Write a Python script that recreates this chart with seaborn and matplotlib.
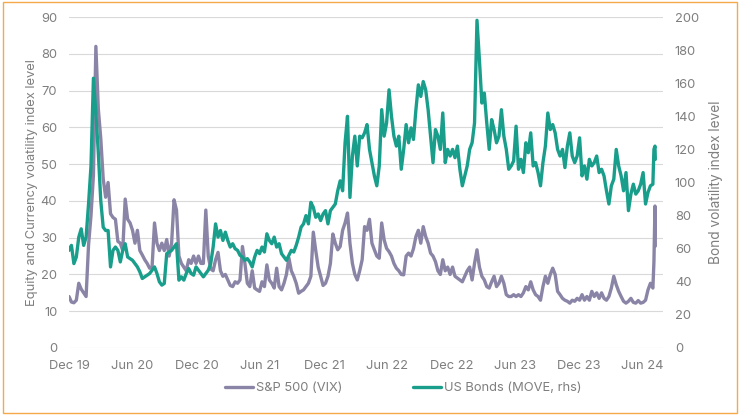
import matplotlib
matplotlib.use('Agg')
import matplotlib.pyplot as plt
import pandas as pd
import seaborn as sns

# weekly readings (Tuesdays from 31 Dec 2019), then the early-August 2024 days
VIX = [14, 12.5, 12.3, 13, 17.6, 16, 15, 14, 28, 36,
       47, 82, 65, 57, 46, 41, 45, 36.5, 35.5, 35,
       29, 28.5, 26.5, 40.5, 35, 34, 32, 28.5, 32, 26.5,
       25.3, 24, 23, 21.7, 22, 34, 28.5, 26.5, 28.5, 26.5,
       29.5, 25, 28.5, 40.3, 37.5, 25, 23, 22, 21, 24,
       23, 25, 23, 25, 23, 23, 37.5, 25, 21.5, 21,
       24, 26, 21, 19.5, 20, 18.5, 17, 16.7, 18, 17.6,
       18.5, 27.6, 23, 17.6, 16.7, 21, 16.3, 15.8, 15.4, 18,
       16.7, 22.6, 18.5, 17.6, 16.3, 21.7, 16.7, 15.8, 17.6, 20,
       24.5, 21, 19.5, 17.6, 14.9, 15.4, 15.8, 16.7, 17.6, 19.5,
       31.5, 26.5, 22, 19.5, 17, 17.6, 19.5, 23, 31, 28.5,
       26.7, 27.6, 32, 34, 36.7, 28.5, 23, 20, 18.5, 21,
       24, 33, 32, 35, 28.5, 26.7, 25, 24.4, 34, 29.4,
       27.1, 26.2, 25, 23, 21.7, 21, 20, 19.9, 25, 25.8,
       25, 27, 30.3, 32, 28.5, 33, 30.3, 28.5, 25.8, 25,
       23.5, 21, 20, 24, 21, 22, 20, 22, 19.5, 19,
       18.5, 18, 19.5, 21, 22, 18.5, 23, 26.7, 22, 19.5,
       18.5, 16.7, 16.3, 18, 19.5, 16.7, 17.6, 19.5, 17.6, 14.5,
       14, 14, 14.5, 14, 14.5, 14, 15, 16.7, 15.8, 18,
       15.8, 14.5, 14, 13, 16.7, 19.5, 17.6, 20, 21.7, 20,
       15.4, 14.5, 13.5, 13, 12.7, 12.2, 13, 12.7, 13.5, 13,
       14.5, 13, 14, 13, 15.4, 14, 15, 13.5, 15, 13.5,
       13, 14, 16.3, 19.5, 17.2, 15.4, 14, 12.7, 12.2, 12.7,
       13.5, 12.4, 12.2, 12.9, 12.2, 12.4, 13, 15.8, 17.6, 16.3,
       23.4, 38.6, 27.7]

MOVE = [59, 62, 51, 55, 67, 72, 62, 67, 87, 110,
        163, 142, 118, 89, 73, 71, 71, 49, 59, 61,
        59, 52, 59, 63, 55, 54, 53, 51, 49, 46,
        42, 43, 44, 45, 47, 49, 45, 40, 38, 39,
        57, 58, 59, 61, 63, 41, 43, 41, 45, 48,
        45, 44, 49, 47, 45, 43, 45, 47, 51, 61,
        75, 67, 71, 65, 70, 65, 61, 63, 60, 59,
        56, 55, 53, 54, 52, 49, 55, 59, 57, 61,
        58, 69, 65, 63, 67, 61, 63, 57, 55, 53,
        56, 59, 58, 62, 67, 73, 75, 80, 75, 88,
        85, 79, 81, 77, 81, 83, 75, 83, 85, 87,
        95, 101, 95, 124, 140, 91, 116, 128, 110, 128,
        127, 130, 135, 120, 112, 104, 98, 110, 144, 128,
        136, 156, 140, 128, 122, 128, 108, 120, 135, 124,
        133, 126, 144, 159, 152, 161, 156, 144, 128, 112,
        132, 128, 120, 142, 112, 120, 116, 120, 115, 122,
        108, 98, 104, 110, 120, 124, 136, 198, 174, 148,
        154, 136, 120, 138, 132, 124, 128, 144, 128, 120,
        108, 110, 113, 134, 108, 114, 106, 124, 118, 130,
        110, 112, 106, 98, 112, 122, 142, 132, 135, 130,
        120, 116, 120, 109, 122, 130, 116, 112, 116, 127,
        104, 110, 102, 114, 110, 112, 116, 106, 108, 104,
        95, 87, 98, 102, 120, 110, 104, 95, 106, 83,
        93, 99, 93, 95, 99, 106, 87, 94, 98, 99,
        120, 122, 114]

EXTRA_DATES = ['2024-08-02', '2024-08-05', '2024-08-06']
TICK_DATES = ['2019-12-31', '2020-06-30', '2020-12-31', '2021-06-30', '2021-12-31',
              '2022-06-30', '2022-12-31', '2023-06-30', '2023-12-31', '2024-06-30']
TICK_LABELS = ['Dec 19', 'Jun 20', 'Dec 20', 'Jun 21', 'Dec 21',
               'Jun 22', 'Dec 22', 'Jun 23', 'Dec 23', 'Jun 24']

dates = list(pd.date_range('2019-12-31', periods=len(VIX) - len(EXTRA_DATES), freq='7D'))
dates += list(pd.to_datetime(EXTRA_DATES))
df = pd.DataFrame({'date': dates, 'vix': VIX, 'move': MOVE})

sns.set_theme(style='white')
plt.rcParams['font.family'] = ['Inter', 'DejaVu Sans']
GREY = '#7f7f7f'
PURPLE = '#8a85a6'
TEAL = '#1a9e8c'

fig = plt.figure(figsize=(7.4, 4.18), dpi=100)
ax = fig.add_axes([69 / 740, 1 - 348 / 418, 594 / 740, 331 / 418])
ax2 = ax.twinx()

sns.lineplot(data=df, x='date', y='vix', ax=ax, color=PURPLE, lw=2.4, label='S&P 500 (VIX)', legend=False)
sns.lineplot(data=df, x='date', y='move', ax=ax2, color=TEAL, lw=2.4, label='US Bonds (MOVE, rhs)', legend=False)

ax.set_ylim(0, 90)
ax.set_yticks(range(0, 91, 10))
ax2.set_ylim(0, 200)
ax2.set_yticks(range(0, 201, 20))
ax.set_xlim(pd.Timestamp('2019-12-31'), pd.Timestamp('2024-08-28'))
ax.set_xticks(pd.to_datetime(TICK_DATES))
ax.set_xticklabels(TICK_LABELS)

ax.grid(axis='y', color='#d9d9d9', lw=0.8)
ax.set_axisbelow(True)
for a in (ax, ax2):
    for s in a.spines.values():
        s.set_visible(False)
    a.tick_params(length=0, labelsize=9.3, labelcolor=GREY, pad=8.5)
ax.set_xlabel('')
ax.set_ylabel('Equity and Currency volatility index level', color=GREY, fontsize=9.3, labelpad=2)
ax2.set_ylabel('Bond volatility index level', color=GREY, fontsize=9.8, labelpad=7)

h1, l1 = ax.get_legend_handles_labels()
h2, l2 = ax2.get_legend_handles_labels()
fig.legend(h1 + h2, l1 + l2, loc='center', bbox_to_anchor=(403 / 740, 1 - 388 / 418), ncol=2,
           frameon=False, fontsize=9.3, labelcolor=GREY, handlelength=2.2, handletextpad=0.2,
           columnspacing=5.5)

fig.patches.append(plt.Rectangle((3 / 740, 5 / 418), 734 / 740, 411 / 418, transform=fig.transFigure,
                                 fill=False, ec='#f5a94a', lw=1))

fig.savefig('out.png', dpi=100)
